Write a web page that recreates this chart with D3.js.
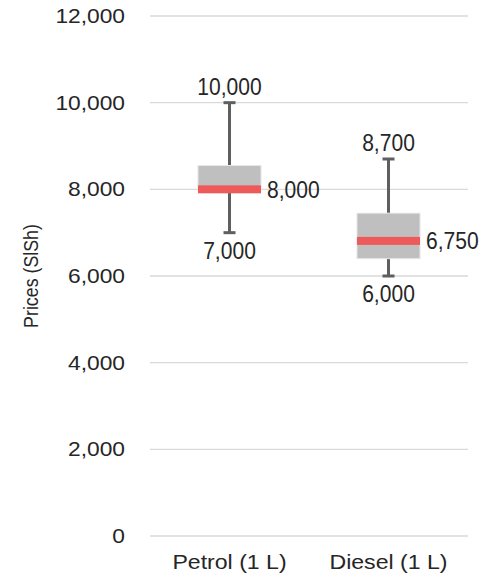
<!DOCTYPE html>
<html>
<head>
<meta charset="utf-8">
<script src="https://cdn.jsdelivr.net/npm/d3@7"></script>
<style>
  body { margin: 0; background: #fff; }
  text { fill: #262626; font-family: "Liberation Sans", Arial, sans-serif; }
  .tick text { font-size: 20.7px; }
  .lbl { font-size: 24.5px; }
</style>
</head>
<body>
<svg width="483" height="575"></svg>
<script>
//dimensions
var width = 483, height = 575;
var margin = {top: 16, right: 15, bottom: 39, left: 150};

//data (SlSh per litre)
var fuels = ['Petrol (1 L)', 'Diesel (1 L)'];
var minPrice = [7000, 6000];
var q1Price = [7950, 6400];
var medianPrice = [8000, 6810];
var q3Price = [8550, 7450];
var maxPrice = [10000, 8700];
var medianLabels = ['8,000', '6,750'];
var yTicks = [0, 2000, 4000, 6000, 8000, 10000, 12000];

var svg = d3.select('svg');

var x = d3.scaleBand()
  .domain(fuels)
  .range([margin.left, width - margin.right]);

var y = d3.scaleLinear()
  .domain([0, 12000])
  .range([height - margin.bottom, margin.top]);

var fmt = d3.format(',');
var stretch = 1.1;   // the picture is a bit wider than it is tall
var narrow = 0.86;   // data labels use a condensed face

//gridlines
svg.append('g')
  .selectAll('line')
  .data(yTicks)
  .enter()
  .append('line')
  .attr('x1', margin.left)
  .attr('x2', width - margin.right)
  .attr('y1', function(d) { return y(d) })
  .attr('y2', function(d) { return y(d) })
  .attr('stroke', '#d9d9d9')
  .attr('stroke-width', 1.3);

//y axis
var yAxis = svg.append('g')
  .attr('transform', 'translate(' + margin.left + ',0)')
  .call(d3.axisLeft(y).tickValues(yTicks).tickFormat(fmt).tickSize(0).tickPadding(0));
yAxis.select('.domain').remove();
yAxis.selectAll('.tick text')
  .attr('x', -25 / stretch)
  .attr('transform', 'scale(' + stretch + ',1)');

//x axis
var xAxis = svg.append('g')
  .attr('transform', 'translate(0,' + (height - margin.bottom) + ')')
  .call(d3.axisBottom(x).tickSize(0).tickPadding(18));
xAxis.select('.domain').remove();
xAxis.selectAll('.tick text')
  .style('font-size', '21px')
  .attr('transform', 'scale(' + stretch + ',1)');

//y title
svg.append('text')
  .attr('transform', 'translate(38,' + ((margin.top + height - margin.bottom) / 2) + ') rotate(-90) scale(1,' + stretch + ')')
  .attr('text-anchor', 'middle')
  .style('font-size', '17.8px')
  .text('Prices (SlSh)');

function label(px, py, anchor, txt) {
  g.append('text').attr('class', 'lbl')
    .attr('transform', 'translate(' + px + ',' + py + ') scale(' + narrow + ',1)')
    .attr('text-anchor', anchor)
    .text(txt);
}

var boxW = 63;
var g = svg.append('g');

fuels.forEach(function(f, i) {
  var cx = x(f) + x.bandwidth() / 2;

  //whisker
  g.append('line')
    .attr('x1', cx).attr('x2', cx)
    .attr('y1', y(maxPrice[i])).attr('y2', y(minPrice[i]))
    .attr('stroke', '#5f5f5f').attr('stroke-width', 3);
  [minPrice[i], maxPrice[i]].forEach(function(v) {
    g.append('line')
      .attr('x1', cx - 6).attr('x2', cx + 6)
      .attr('y1', y(v)).attr('y2', y(v))
      .attr('stroke', '#5f5f5f').attr('stroke-width', 3);
  });

  //box
  g.append('rect')
    .attr('x', cx - boxW / 2)
    .attr('y', y(q3Price[i]))
    .attr('width', boxW)
    .attr('height', y(q1Price[i]) - y(q3Price[i]))
    .attr('fill', '#bfbfbf')
    .attr('stroke', '#e6e6e6')
    .attr('stroke-width', 1);

  //median
  g.append('rect')
    .attr('x', cx - boxW / 2)
    .attr('y', y(medianPrice[i]) - 4)
    .attr('width', boxW)
    .attr('height', 8)
    .attr('fill', '#ee5a5a');

  //labels
  label(cx, y(maxPrice[i]) - 8, 'middle', fmt(maxPrice[i]));
  label(cx, y(minPrice[i]) + 26, 'middle', fmt(minPrice[i]));
  label(cx + boxW / 2 + 6, y(medianPrice[i]) + 8.5, 'start', medianLabels[i]);
});
</script>
</body>
</html>
